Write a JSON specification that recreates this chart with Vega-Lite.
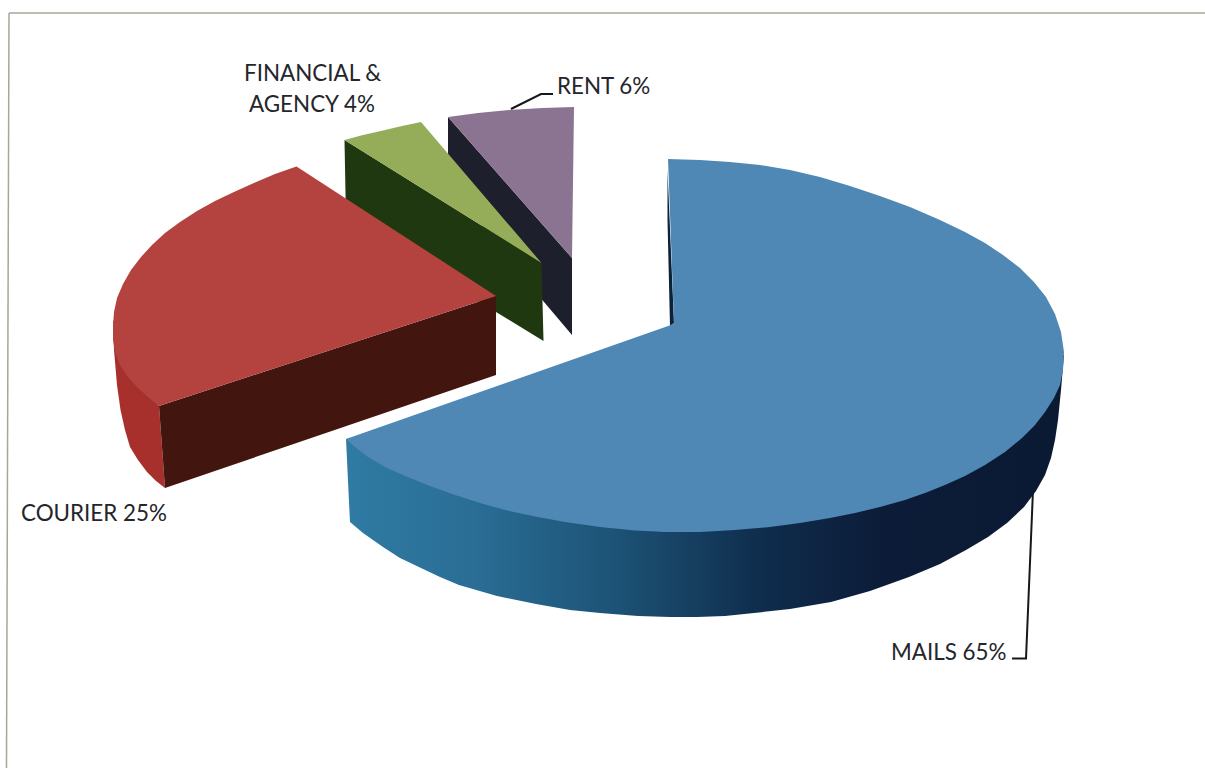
{
"$schema":"https://vega.github.io/schema/vega-lite/v6.json",
"width":1205,"height":768,"padding":0,"autosize":{"type":"none"},"background":"#ffffff",
"view":{"stroke":null},
"datasets":{
"outlines":[
{"face":"frame","x":9,"y":13},{"face":"frame","x":6.5,"y":768},
{"face":"frame_top","x":9,"y":13},{"face":"frame_top","x":1205,"y":13},

{"face":"rent_side","x":448,"y":117},{"face":"rent_side","x":572,"y":258},{"face":"rent_side","x":572,"y":335},{"face":"rent_side","x":500,"y":250},{"face":"rent_side","x":448,"y":180},
{"face":"rent_top","x":448,"y":117},{"face":"rent_top","x":478,"y":113},{"face":"rent_top","x":509,"y":110},{"face":"rent_top","x":542,"y":108},{"face":"rent_top","x":574,"y":107},{"face":"rent_top","x":572,"y":258},

{"face":"financial_side","x":344.5,"y":140},{"face":"financial_side","x":541.5,"y":263},{"face":"financial_side","x":543.5,"y":341},{"face":"financial_side","x":496,"y":312},{"face":"financial_side","x":346,"y":220},
{"face":"financial_top","x":344.5,"y":140},{"face":"financial_top","x":363,"y":135},{"face":"financial_top","x":383,"y":130.5},{"face":"financial_top","x":402,"y":126},{"face":"financial_top","x":421,"y":122},{"face":"financial_top","x":541.5,"y":263},

{"face":"courier_rim","x":113,"y":320},{"face":"courier_rim","x":114,"y":350},{"face":"courier_rim","x":117,"y":385},{"face":"courier_rim","x":120.5,"y":410},{"face":"courier_rim","x":125,"y":430},{"face":"courier_rim","x":130,"y":447},{"face":"courier_rim","x":138,"y":460},{"face":"courier_rim","x":147,"y":472},{"face":"courier_rim","x":156,"y":481},{"face":"courier_rim","x":165,"y":488},{"face":"courier_rim","x":159,"y":406},
{"face":"courier_cut","x":159,"y":406},{"face":"courier_cut","x":496,"y":296},{"face":"courier_cut","x":496,"y":375},{"face":"courier_cut","x":165,"y":488},
{"face":"courier_top","x":296.5,"y":166.5},{"face":"courier_top","x":275,"y":174},{"face":"courier_top","x":255,"y":182.5},{"face":"courier_top","x":235,"y":191.5},{"face":"courier_top","x":215,"y":201},{"face":"courier_top","x":197,"y":211},{"face":"courier_top","x":180,"y":222},{"face":"courier_top","x":165,"y":233},{"face":"courier_top","x":152,"y":245},{"face":"courier_top","x":141,"y":257},{"face":"courier_top","x":131,"y":270},{"face":"courier_top","x":123,"y":284},{"face":"courier_top","x":117,"y":298},{"face":"courier_top","x":114,"y":312},{"face":"courier_top","x":113,"y":326},{"face":"courier_top","x":113,"y":340},{"face":"courier_top","x":115,"y":352},{"face":"courier_top","x":120,"y":365},{"face":"courier_top","x":128,"y":377},{"face":"courier_top","x":138,"y":388},{"face":"courier_top","x":148,"y":397},{"face":"courier_top","x":159,"y":406},{"face":"courier_top","x":496,"y":296},

{"face":"mails_inner","x":667.5,"y":170},{"face":"mails_inner","x":674,"y":323},{"face":"mails_inner","x":670,"y":326},{"face":"mails_inner","x":667.5,"y":220},
{"face":"mails_rim","x":346,"y":439},{"face":"mails_rim","x":350,"y":522},{"face":"mails_rim","x":363,"y":533},{"face":"mails_rim","x":383,"y":547},{"face":"mails_rim","x":400,"y":558},{"face":"mails_rim","x":421,"y":568},{"face":"mails_rim","x":440,"y":577},{"face":"mails_rim","x":459,"y":585},{"face":"mails_rim","x":497,"y":596},{"face":"mails_rim","x":536,"y":604},{"face":"mails_rim","x":570,"y":610},{"face":"mails_rim","x":600,"y":613},{"face":"mails_rim","x":638,"y":616},{"face":"mails_rim","x":670,"y":617},{"face":"mails_rim","x":697,"y":617},{"face":"mails_rim","x":725,"y":616},{"face":"mails_rim","x":754,"y":613},{"face":"mails_rim","x":790,"y":609},{"face":"mails_rim","x":831,"y":602},{"face":"mails_rim","x":870,"y":591},{"face":"mails_rim","x":909,"y":577},{"face":"mails_rim","x":940,"y":564},{"face":"mails_rim","x":966,"y":550},{"face":"mails_rim","x":988,"y":537},{"face":"mails_rim","x":1007,"y":523},{"face":"mails_rim","x":1024,"y":507},{"face":"mails_rim","x":1036,"y":491},{"face":"mails_rim","x":1045,"y":475},{"face":"mails_rim","x":1051,"y":458},{"face":"mails_rim","x":1055,"y":440},{"face":"mails_rim","x":1058,"y":420},{"face":"mails_rim","x":1061,"y":390},{"face":"mails_rim","x":1064,"y":355},{"face":"mails_rim","x":700,"y":400},

{"face":"mails_top","x":674,"y":323},{"face":"mails_top","x":668,"y":159},{"face":"mails_top","x":700,"y":160},{"face":"mails_top","x":730,"y":162},{"face":"mails_top","x":760,"y":165},{"face":"mails_top","x":790,"y":170},{"face":"mails_top","x":820,"y":177},{"face":"mails_top","x":850,"y":186},{"face":"mails_top","x":880,"y":196},{"face":"mails_top","x":910,"y":207},{"face":"mails_top","x":940,"y":220},{"face":"mails_top","x":965,"y":232},{"face":"mails_top","x":985,"y":243},{"face":"mails_top","x":1003,"y":255},{"face":"mails_top","x":1020,"y":268},{"face":"mails_top","x":1034,"y":282},{"face":"mails_top","x":1046,"y":297},{"face":"mails_top","x":1055,"y":314},{"face":"mails_top","x":1061,"y":332},{"face":"mails_top","x":1064,"y":352},{"face":"mails_top","x":1063,"y":370},{"face":"mails_top","x":1060,"y":385},{"face":"mails_top","x":1054,"y":398},{"face":"mails_top","x":1045,"y":412},{"face":"mails_top","x":1035,"y":425},{"face":"mails_top","x":1022,"y":438},{"face":"mails_top","x":1005,"y":452},{"face":"mails_top","x":985,"y":465},{"face":"mails_top","x":965,"y":476},{"face":"mails_top","x":945,"y":485},{"face":"mails_top","x":925,"y":493},{"face":"mails_top","x":905,"y":500},{"face":"mails_top","x":880,"y":507},{"face":"mails_top","x":855,"y":513},{"face":"mails_top","x":830,"y":518},{"face":"mails_top","x":800,"y":523},{"face":"mails_top","x":770,"y":527},{"face":"mails_top","x":735,"y":530},{"face":"mails_top","x":700,"y":532},{"face":"mails_top","x":665,"y":532},{"face":"mails_top","x":635,"y":530.5},{"face":"mails_top","x":600,"y":527},{"face":"mails_top","x":565,"y":522},{"face":"mails_top","x":535,"y":516.5},{"face":"mails_top","x":505,"y":510},{"face":"mails_top","x":480,"y":503},{"face":"mails_top","x":455,"y":495},{"face":"mails_top","x":430,"y":486},{"face":"mails_top","x":405,"y":476},{"face":"mails_top","x":385,"y":467},{"face":"mails_top","x":368,"y":457},{"face":"mails_top","x":355,"y":447},{"face":"mails_top","x":346,"y":439},{"face":"mails_top","x":671,"y":325},

{"face":"leader_mails","x":1033,"y":490},{"face":"leader_mails","x":1026,"y":658.5},{"face":"leader_mails","x":1012,"y":658.5},
{"face":"leader_rent","x":511,"y":109},{"face":"leader_rent","x":541,"y":94},{"face":"leader_rent","x":553,"y":94}
],
"labels":[
{"slice":"Financial & agency","share":4,"text":"FINANCIAL &","x":244,"y":74},
{"slice":"Financial & agency","share":4,"text":"AGENCY 4%","x":249,"y":105},
{"slice":"Rent","share":6,"text":"RENT 6%","x":557,"y":87},
{"slice":"Courier","share":25,"text":"COURIER 25%","x":21,"y":514},
{"slice":"Mails","share":65,"text":"MAILS 65%","x":891,"y":653}
]},
"data":{"name":"outlines"},
"transform":[{"window":[{"op":"row_number","as":"vertex"}]}],
"encoding":{
"x":{"field":"x","type":"quantitative","axis":null,"scale":{"domain":[0,1205],"nice":false,"zero":false}},
"y":{"field":"y","type":"quantitative","axis":null,"scale":{"domain":[768,0],"nice":false,"zero":false}},
"order":{"field":"vertex","type":"quantitative"}
},
"layer":[
{"transform":[{"filter":{"field":"face","oneOf":["frame","frame_top"]}}],"encoding":{"detail":{"field":"face"}},"mark":{"type":"line","stroke":"#a9a698","strokeWidth":1.5}},
{"transform":[{"filter":{"field":"face","equal":"rent_side"}}],"mark":{"type":"line","fill":"#1e1f2c","strokeOpacity":0}},
{"transform":[{"filter":{"field":"face","equal":"rent_top"}}],"mark":{"type":"line","fill":"#8b7492","strokeOpacity":0}},
{"transform":[{"filter":{"field":"face","equal":"financial_side"}}],"mark":{"type":"line","fill":"#20380f","strokeOpacity":0}},
{"transform":[{"filter":{"field":"face","equal":"financial_top"}}],"mark":{"type":"line","fill":"#95ad58","strokeOpacity":0}},
{"transform":[{"filter":{"field":"face","equal":"courier_rim"}}],"mark":{"type":"line","fill":"#a8302c","strokeOpacity":0}},
{"transform":[{"filter":{"field":"face","equal":"courier_cut"}}],"mark":{"type":"line","fill":"#42160f","strokeOpacity":0}},
{"transform":[{"filter":{"field":"face","equal":"courier_top"}}],"mark":{"type":"line","fill":"#b4433f","strokeOpacity":0}},
{"transform":[{"filter":{"field":"face","equal":"mails_inner"}}],"mark":{"type":"line","fill":"#0c2238","strokeOpacity":0}},
{"transform":[{"filter":{"field":"face","equal":"leader_mails"}}],"mark":{"type":"line","stroke":"#15181c","strokeWidth":2}},
{"transform":[{"filter":{"field":"face","equal":"mails_rim"}}],"mark":{"type":"line","fill":{"x1":0,"y1":0,"x2":1,"y2":0,"gradient":"linear","stops":[{"offset":0,"color":"#2f7ba3"},{"offset":0.18,"color":"#2a6d95"},{"offset":0.38,"color":"#1c5275"},{"offset":0.58,"color":"#0f2c4c"},{"offset":0.75,"color":"#0c1c38"},{"offset":1,"color":"#0b1a33"}]},"strokeOpacity":0}},
{"transform":[{"filter":{"field":"face","equal":"mails_top"}}],"mark":{"type":"line","fill":"#4f88b5","strokeOpacity":0}},
{"transform":[{"filter":{"field":"face","equal":"leader_rent"}}],"mark":{"type":"line","stroke":"#15181c","strokeWidth":2}},
{"data":{"name":"labels"},"transform":[],"mark":{"type":"text","align":"left","baseline":"middle","font":"Lato","fontSize":22.4,"fill":"#24262b"},"encoding":{"text":{"field":"text"},"order":null}}
]
}
